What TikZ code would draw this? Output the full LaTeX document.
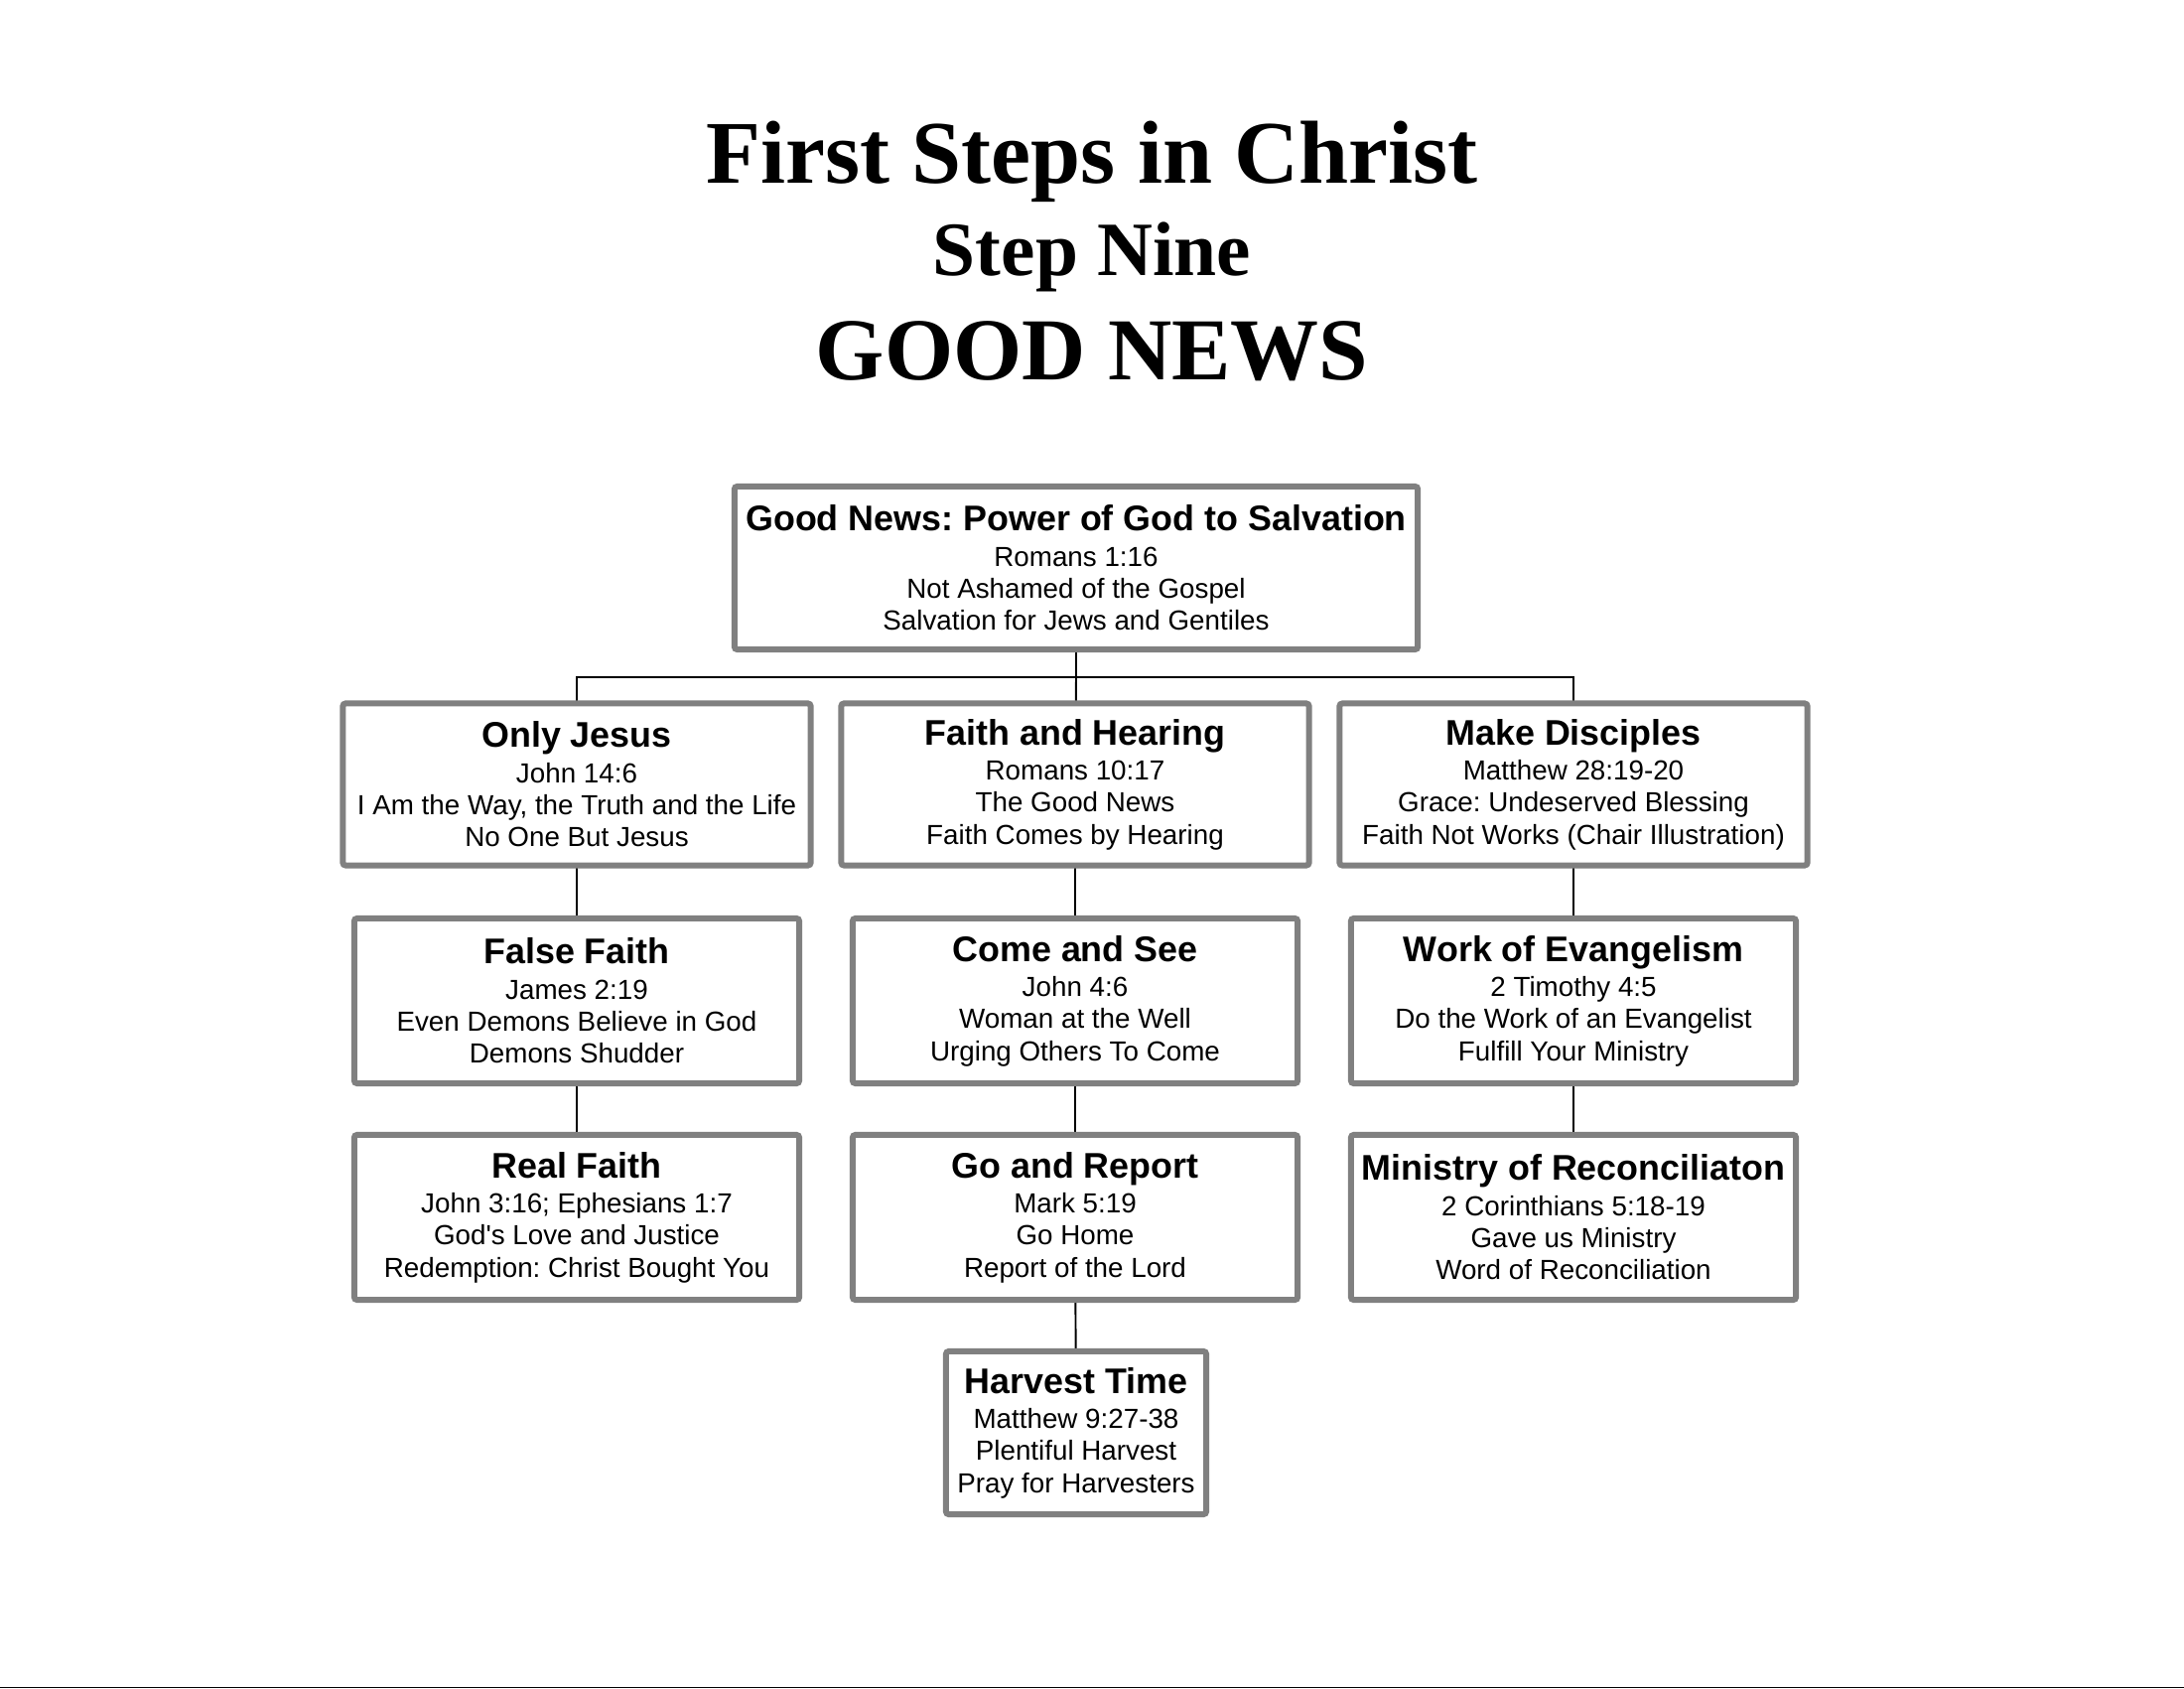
\documentclass[tikz,border=0pt]{standalone}
\usepackage{fontspec}
\setmainfont{Liberation Serif}
\newfontfamily\arialf{Liberation Sans}
\frenchspacing
\pgfdeclarelayer{bg}
\pgfdeclarelayer{paper}
\pgfsetlayers{paper,bg,main}
\definecolor{boxgray}{RGB}{128,128,128}
\newcommand\mkbox[4]{{\bfseries\fontsize{10.2}{11}\selectfont #1}\\[0.8pt]#2\\#3\\#4}
\tikzset{
  card/.style={draw=boxgray, line width=1.7pt, fill=white, rounded corners=0.8pt,
    align=center, inner sep=0pt, font=\arialf\fontsize{7.9}{9.2}\selectfont},
  wide/.style={card, minimum width=4.71cm, minimum height=1.63cm},
  mid/.style={card, minimum width=4.48cm, minimum height=1.66cm},
  link/.style={draw=black, line width=0.55pt},
  ttl/.style={anchor=base, inner sep=0pt, font=\bfseries}
}
\begin{document}
\begin{tikzpicture}[x=0.01cm, y=-0.01cm]
\useasboundingbox (0,0) rectangle (2200,1701);
\begin{pgfonlayer}{paper}
\fill[white] (0,0) rectangle (2200,1701);
\end{pgfonlayer}
% titles
\node[ttl, font=\bfseries\fontsize{25.6}{30}\selectfont] (t1) at (1100,185) {First Steps in Christ};
\node[ttl, font=\bfseries\fontsize{22}{26}\selectfont] (t2) at (1100,278) {Step Nine};
\node[ttl, font=\bfseries\fontsize{25.3}{30}\selectfont] (t3) at (1100,383) {GOOD NEWS};
% boxes
\node[card, minimum width=6.88cm, minimum height=1.64cm] (top) at (1084,572)
  {\mkbox{Good News: Power of God to Salvation}{Romans 1:16}{Not Ashamed of the Gospel}{Salvation for Jews and Gentiles}};
\node[wide] (oj) at (581,790)
  {\mkbox{Only Jesus}{John 14:6}{I Am the Way, the Truth and the Life}{No One But Jesus}};
\node[wide] (fh) at (1083,790)
  {\mkbox{Faith and Hearing}{Romans 10:17}{The Good News}{Faith Comes by Hearing}};
\node[wide] (md) at (1585,790)
  {\mkbox{Make Disciples}{Matthew 28:19-20}{Grace: Undeserved Blessing}{Faith Not Works (Chair Illustration)}};
\node[mid] (ff) at (581,1008)
  {\mkbox{False Faith}{James 2:19}{Even Demons Believe in God}{Demons Shudder}};
\node[mid] (cs) at (1083,1008)
  {\mkbox{Come and See}{John 4:6}{Woman at the Well}{Urging Others To Come}};
\node[mid] (we) at (1585,1008)
  {\mkbox{Work of Evangelism}{2 Timothy 4:5}{Do the Work of an Evangelist}{Fulfill Your Ministry}};
\node[mid] (rf) at (581,1226)
  {\mkbox{Real Faith}{John 3:16; Ephesians 1:7}{God's Love and Justice}{Redemption: Christ Bought You}};
\node[mid] (gr) at (1083,1226)
  {\mkbox{Go and Report}{Mark 5:19}{Go Home}{Report of the Lord}};
\node[mid] (mr) at (1585,1226)
  {\mkbox{Ministry of Reconciliaton}{2 Corinthians 5:18-19}{Gave us Ministry}{Word of Reconciliation}};
\node[card, minimum width=2.62cm, minimum height=1.64cm] (ht) at (1084,1443)
  {\mkbox{Harvest Time}{Matthew 9:27-38}{Plentiful Harvest}{Pray for Harvesters}};
% connectors
\coordinate (j) at (1084,682);
\begin{pgfonlayer}{bg}
\draw[link] (top.center) -- (j);
\draw[link] (j) -| (oj.center);
\draw[link] (j) -| (md.center);
\draw[link] (j) -- (fh.center);
\draw[link] (oj.center) -- (ff.center);
\draw[link] (ff.center) -- (rf.center);
\draw[link] (fh.center) -- (cs.center);
\draw[link] (cs.center) -- (gr.center);
\draw[link] (gr.center) -- (ht.center);
\draw[link] (md.center) -- (we.center);
\draw[link] (we.center) -- (mr.center);
\end{pgfonlayer}
% bottom rule
\coordinate (bl) at (0,1699.5);
\coordinate (br) at (2200,1699.5);
\draw[line width=0.4pt] (bl) -- (br);
\end{tikzpicture}
\end{document}
